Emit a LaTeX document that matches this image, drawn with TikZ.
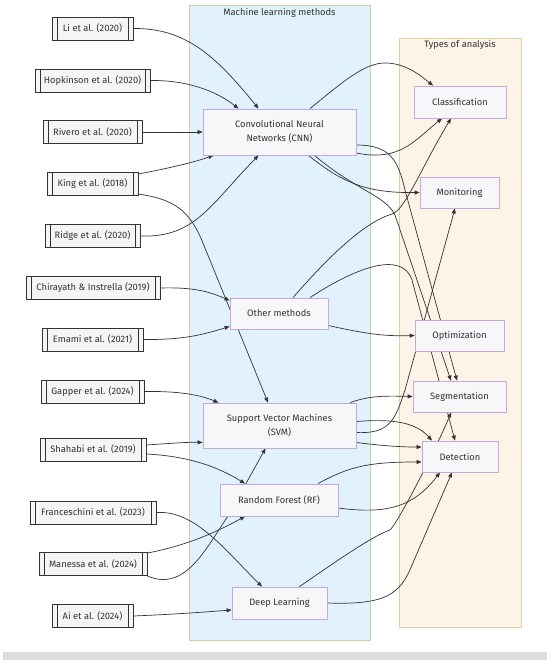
\documentclass[tikz,border=0pt]{standalone}
\usepackage{fontspec}
\setmainfont{Fira Sans}
\usetikzlibrary{arrows.meta,calc}
\definecolor{ink}{HTML}{333333}
\definecolor{mlfill}{HTML}{E1F2FD}
\definecolor{mlborder}{HTML}{C9D5A0}
\definecolor{anfill}{HTML}{FDF3E6}
\definecolor{anborder}{HTML}{D8D3A0}
\definecolor{nodefill}{HTML}{F7F7FA}
\definecolor{nodeborder}{HTML}{C4A8E0}
\definecolor{paperfill}{HTML}{F5F5F5}
\definecolor{barcolor}{HTML}{DCDCDC}
\pgfdeclarelayer{bg}
\pgfdeclarelayer{edges}
\pgfsetlayers{bg,edges,main}
\tikzset{
  paper/.style={draw=ink, fill=paperfill, line width=0.8pt, minimum height=23, inner sep=1pt, text=ink,
    path picture={\draw[ink, line width=0.8pt]
      ([xshift=5pt]path picture bounding box.north west) -- ([xshift=5pt]path picture bounding box.south west)
      ([xshift=-5pt]path picture bounding box.north east) -- ([xshift=-5pt]path picture bounding box.south east);}},
  method/.style={draw=nodeborder, fill=nodefill, line width=0.8pt, inner sep=1pt, text=ink, align=center},
  cluster/.style={line width=0.8pt},
  ctitle/.style={text=ink, inner sep=0pt},
  edge/.style={draw=ink, line width=0.7pt, -{Triangle[length=5pt,width=4pt]}}
}
\begin{document}
\begin{tikzpicture}[x=1pt,y=-1pt,font=\fontsize{9.3}{14}\selectfont]
\useasboundingbox (0,0) rectangle (550,663);
\begin{pgfonlayer}{bg}
\fill[white] (0,0) rectangle (550,663);
\draw[cluster, draw=mlborder, fill=mlfill] (189,5) rectangle (370,640);
\draw[cluster, draw=anborder, fill=anfill] (399,38) rectangle (521,627);
\fill[barcolor] (3,652) rectangle (547,660);
\end{pgfonlayer}
\node[ctitle] (mltitle) at (279.5,13) {Machine learning methods};
\node[ctitle] (antitle) at (460,45) {Types of analysis};
% papers
\node[paper, minimum width=81] (li) at (92.5,28.5) {Li et al. (2020)};
\node[paper, minimum width=115] (hop) at (92.5,80.5) {Hopkinson et al. (2020)};
\node[paper, minimum width=99] (riv) at (92.5,132) {Rivero et al. (2020)};
\node[paper, minimum width=91] (king) at (92.5,184) {King et al. (2018)};
\node[paper, minimum width=95] (ridge) at (92.5,236) {Ridge et al. (2020)};
\node[paper, minimum width=134] (chir) at (93,288) {Chirayath \& Instrella (2019)};
\node[paper, minimum width=101] (emami) at (92.5,339.5) {Emami et al. (2021)};
\node[paper, minimum width=103] (gap) at (92.5,391.5) {Gapper et al. (2024)};
\node[paper, minimum width=106] (sha) at (93,449.5) {Shahabi et al. (2019)};
\node[paper, minimum width=126] (fran) at (93,512.5) {Franceschini et al. (2023)};
\node[paper, minimum width=108] (man) at (93,564) {Manessa et al. (2024)};
\node[paper, minimum width=81] (ai) at (92.5,616) {Ai et al. (2024)};
% methods
\node[method, minimum width=153, minimum height=46] (cnn) at (279.5,132) {Convolutional Neural\\Networks (CNN)};
\node[method, minimum width=98, minimum height=31] (other) at (279,313.5) {Other methods};
\node[method, minimum width=153, minimum height=45] (svm) at (279.5,425.5) {Support Vector Machines\\(SVM)};
\node[method, minimum width=118, minimum height=32] (rf) at (279,500) {Random Forest (RF)};
\node[method, minimum width=95, minimum height=32] (dl) at (279.5,603) {Deep Learning};
% analysis
\node[method, minimum width=92, minimum height=32] (cls) at (460,102) {Classification};
\node[method, minimum width=79, minimum height=31] (mon) at (459.5,192.5) {Monitoring};
\node[method, minimum width=89, minimum height=31] (opt) at (459.5,335.5) {Optimization};
\node[method, minimum width=93, minimum height=31] (seg) at (459.5,396.5) {Segmentation};
\node[method, minimum width=76, minimum height=31] (det) at (460,456.5) {Detection};
\begin{pgfonlayer}{edges}
% papers -> methods
\draw[edge] (li.east) .. controls (185,28) and (215,55) .. ($(cnn.north)+(-21,0)$);
\draw[edge] (hop.east) .. controls (185,80) and (215,90) .. ($(cnn.north)+(-41,0)$);
\draw[edge] (riv.east) -- (cnn.west);
\draw[edge] ($(king.east)+(0,-10)$) .. controls (170,168) and (195,162) .. ($(cnn.south)+(-66,0)$);
\draw[edge] ($(king.east)+(0,10)$) .. controls (180,200) and (192,215) .. (205,248) -- ($(svm.north)+(-11.5,0)$);
\draw[edge] (ridge.east) .. controls (195,238) and (210,205) .. ($(cnn.south)+(-21,0)$);
\draw[edge] (chir.east) .. controls (195,287) and (210,292) .. ($(other.west)+(0,-13)$);
\draw[edge] (emami.east) .. controls (185,340) and (205,334) .. ($(other.west)+(0,13)$);
\draw[edge] (gap.east) .. controls (180,391) and (200,395) .. ($(svm.north)+(-61,0)$);
\draw[edge] ($(sha.east)+(0,-4.5)$) .. controls (175,443) and (190,442) .. ($(svm.west)+(0,17)$);
\draw[edge] ($(sha.east)+(0,4.5)$) .. controls (185,456) and (215,465) .. ($(rf.north)+(-34,0)$);
\draw[edge] (fran.east) .. controls (195,510) and (225,550) .. ($(dl.north)+(-17.5,0)$);
\draw[edge] ($(man.east)+(0,-11)$) .. controls (190,545) and (220,530) .. ($(rf.south)+(-34,0)$);
\draw[edge] ($(man.east)+(0,12)$) .. controls (185,592) and (205,550) .. (228,516) -- ($(svm.south)+(-14,0)$);
\draw[edge] (ai.east) .. controls (180,614) and (205,612) .. ($(dl.west)+(0,7)$);
% methods -> analysis
\draw[edge] ($(cnn.north)+(30.5,0)$) .. controls (345,80) and (365,63) .. (385,63) .. controls (405,63) and (420,75) .. ($(cls.north)+(-27,0)$);
\draw[edge] ($(cnn.east)+(0,21)$) .. controls (400,162) and (415,140) .. ($(cls.south)+(-18,0)$);
\draw[edge] ($(cnn.south)+(29,0)$) .. controls (345,185) and (370,193) .. (mon.west);
\draw[edge] ($(cnn.east)+(0,13)$) .. controls (390,145) and (398,160) .. (405,190) -- ($(seg.north)+(-2.5,0)$);
\draw[edge] ($(cnn.south)+(35,0)$) .. controls (355,190) and (385,195) .. (395,215) -- ($(seg.north)+(-8.5,0)$);
\draw[edge] ($(other.north)+(14,0)$) .. controls (330,255) and (365,222) .. (392,214) .. controls (405,210) and (420,170) .. ($(cls.south)+(-9,0)$);
\draw[edge] ($(other.north)+(31,0)$) .. controls (355,268) and (402,250) .. (412,280) -- ($(det.north)+(-5,0)$);
\draw[edge] ($(other.east)+(0,12)$) .. controls (375,336) and (390,336) .. (opt.west);
\draw[edge] ($(svm.north east)+(-6,0)$) .. controls (370,395) and (390,396) .. (seg.west);
\draw[edge] ($(svm.east)+(0,-4)$) .. controls (400,418) and (418,425) .. ($(det.north)+(-28,0)$);
\draw[edge] ($(svm.east)+(0,7)$) .. controls (390,434) and (395,420) .. (405,390) -- ($(mon.south)+(-4.5,0)$);
\draw[edge] ($(svm.east)+(0,17)$) .. controls (385,446) and (400,447) .. ($(det.west)+(0,-9.5)$);
\draw[edge] ($(rf.north)+(39,0)$) .. controls (350,466) and (370,462) .. ($(det.west)+(0,5.5)$);
\draw[edge] ($(rf.east)+(0,8)$) .. controls (390,515) and (415,505) .. ($(det.south)+(-20,0)$);
\draw[edge] ($(dl.north)+(20,0)$) .. controls (345,555) and (375,535) .. (390,530) .. controls (400,520) and (440,440) .. ($(seg.south)+(-8.5,0)$);
\draw[edge] (dl.east) .. controls (385,605) and (400,595) .. (412,565) -- ($(det.south)+(-8,0)$);
\end{pgfonlayer}
\end{tikzpicture}
\end{document}
